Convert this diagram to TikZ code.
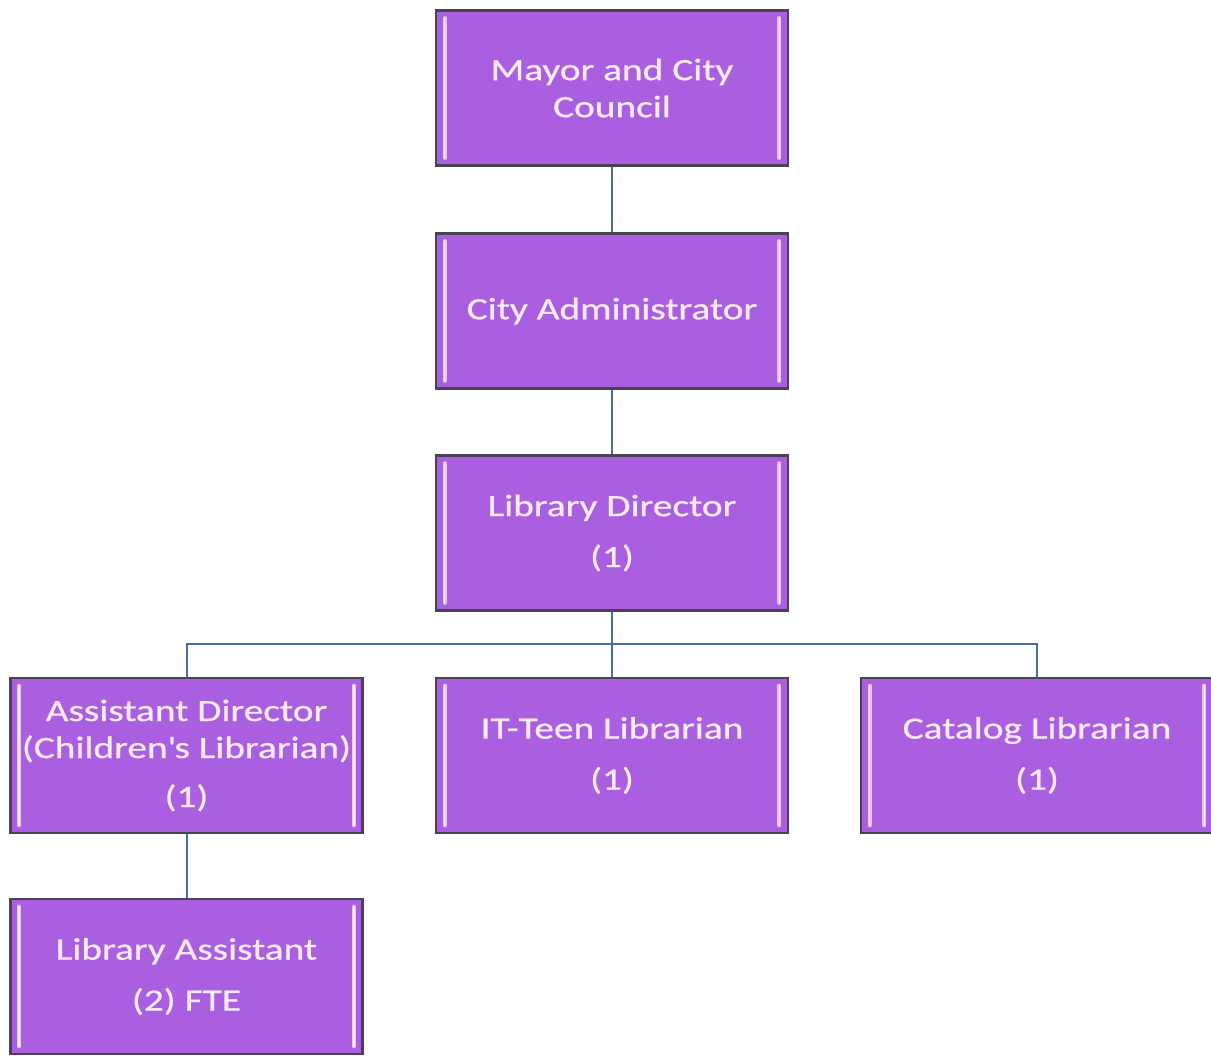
\documentclass[tikz,border=0pt]{standalone}
\usepackage{fontspec}
\setmainfont{Carlito}[FakeStretch=1.27,FakeBold=0.8]
\usetikzlibrary{calc}
\definecolor{boxfill}{RGB}{170,94,224}
\definecolor{boxedge}{RGB}{74,66,84}
\definecolor{boxtext}{RGB}{250,234,250}
\definecolor{bevel}{RGB}{240,190,240}
\definecolor{linkblue}{RGB}{74,108,168}
\begin{document}
\begin{tikzpicture}[x=1pt,y=-1pt,
  orgbox/.style={rectangle, fill=boxfill, draw=boxedge, line width=2.8pt,
    minimum width=352pt, minimum height=155pt, inner sep=0pt, align=center,
    text=boxtext, font=\fontsize{31}{37}\selectfont},
  link/.style={draw=linkblue, line width=2pt},
  bevelbar/.style={draw=bevel, line width=4pt, line cap=round},
  bevelcore/.style={draw=white!85!bevel, line width=1.4pt, line cap=round}]
\useasboundingbox (0,0) rectangle (1211,1057);

% reporting lines
\coordinate (bus) at (612,644);

\node[orgbox] (mayor) at (612,88) {Mayor and City\\Council};
\node[orgbox] (admin) at (612,311) {City Administrator};
\node[orgbox] (dir) at (612,533) {Library Director\\[14pt](1)};
\node[orgbox] (asst) at (186.5,755.5) {Assistant Director\\(Children\textquotesingle s Librarian)\\[12pt](1)};
\node[orgbox] (it) at (612,755.5) {IT-Teen Librarian\\[14pt](1)};
\node[orgbox] (cat) at (1037,755.5) {Catalog Librarian\\[14pt](1)};
\node[orgbox] (la) at (186.5,976.5) {Library Assistant\\[14pt](2) FTE};

\draw[link] (mayor.south) -- (admin.north);
\draw[link] (admin.south) -- (dir.north);
\draw[link] (dir.south) -- (it.north);
\draw[link] (asst.north) |- (bus) -| (cat.north);
\draw[link] (asst.south) -- (la.north);

% bevel highlights along the inner side edges
\foreach \b in {mayor,admin,dir,asst,it,cat,la}{
  \draw[bevelbar] ($(\b.north west)+(10,9)$) -- ($(\b.south west)+(10,-9)$);
  \draw[bevelbar] ($(\b.north east)+(-10,9)$) -- ($(\b.south east)+(-10,-9)$);
  \draw[bevelcore] ($(\b.north west)+(10,9)$) -- ($(\b.south west)+(10,-9)$);
  \draw[bevelcore] ($(\b.north east)+(-10,9)$) -- ($(\b.south east)+(-10,-9)$);
}
\end{tikzpicture}
\end{document}
